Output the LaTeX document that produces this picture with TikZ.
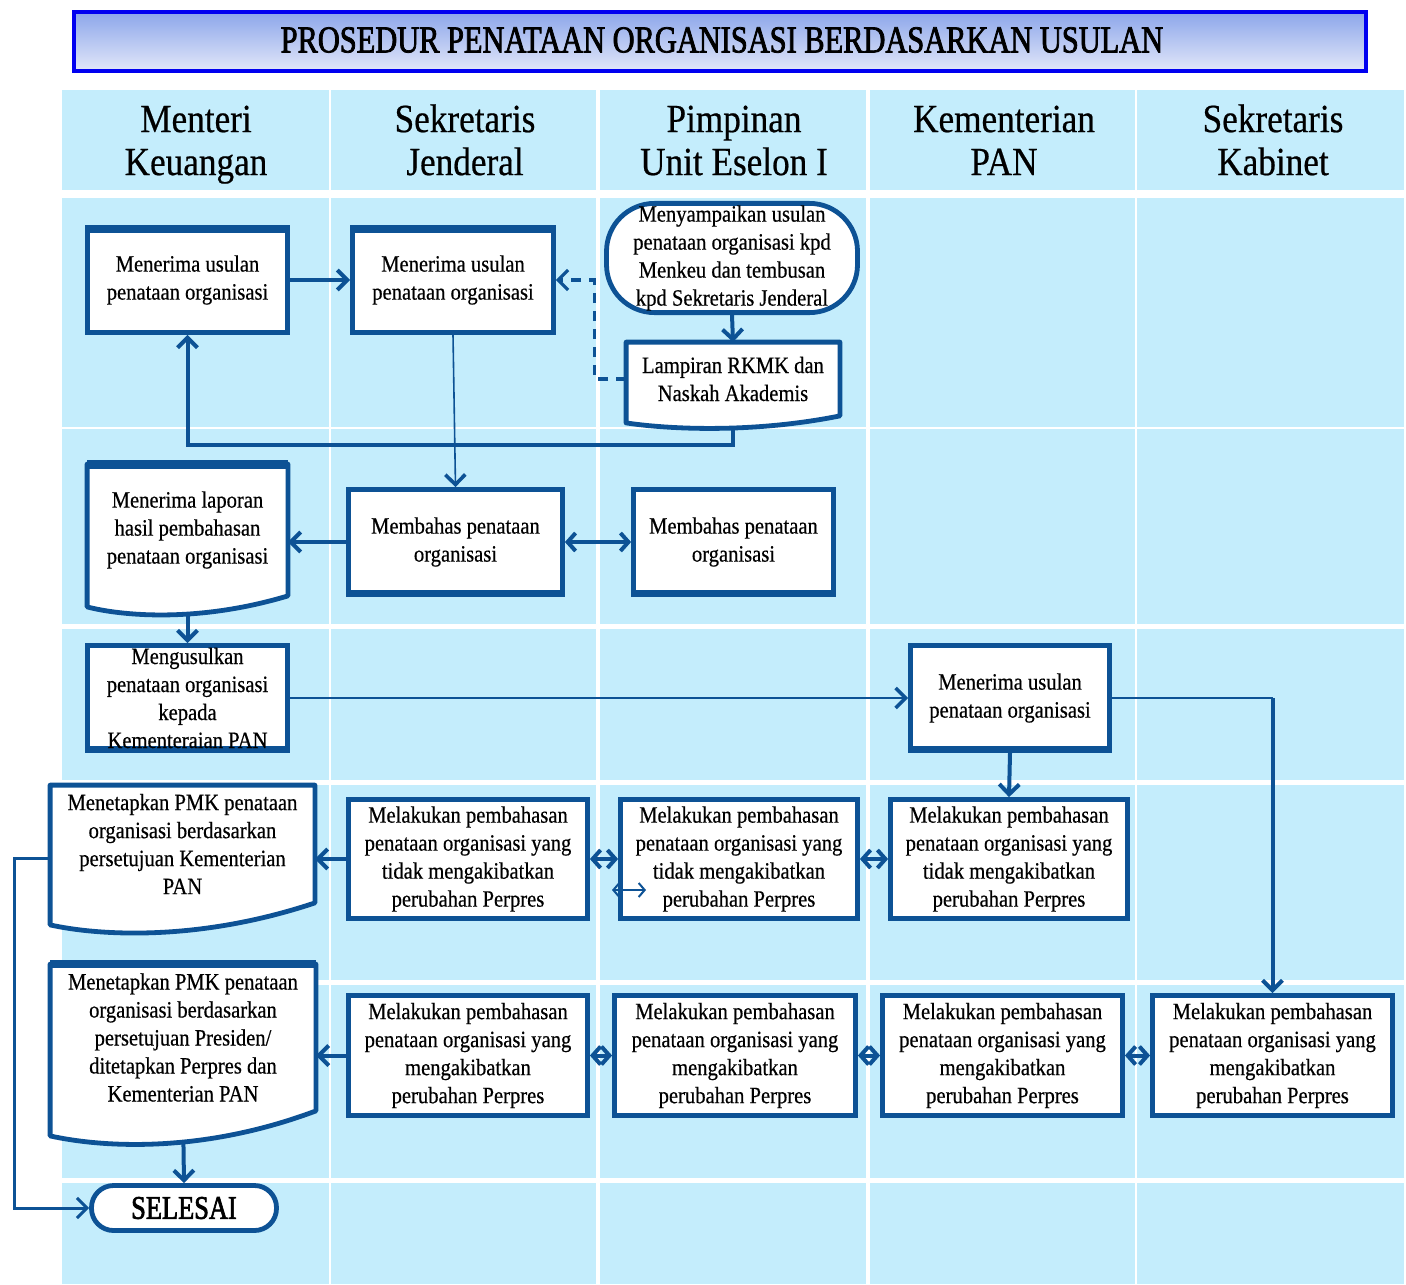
\documentclass[tikz,border=0pt]{standalone}
\usepackage{fontspec}
\setmainfont{Liberation Serif}[FakeStretch=0.88,FakeBold=0.5]
\newfontfamily\titlefont{Liberation Serif}[FakeStretch=0.8,FakeBold=2]
\usetikzlibrary{arrows.meta,calc}
\definecolor{LaneBlue}{HTML}{C4EDFC}
\definecolor{BoxBlue}{HTML}{0D5295}
\definecolor{TitleLine}{HTML}{0000F0}
\definecolor{TitleTop}{HTML}{8CA6EA}
\definecolor{TitleBot}{HTML}{E2E7F9}
\pgfdeclarelayer{lanes}
\pgfdeclarelayer{lines}
\pgfdeclarelayer{docs}
\pgfsetlayers{lanes,lines,docs,main}

\begin{document}
\begin{tikzpicture}[x=0.5pt,y=-0.5pt,
  box/.style={draw=BoxBlue,line width=2.4pt,fill=white,align=center,inner sep=1pt,font=\fontsize{11.7}{14}\selectfont},
  docbox/.style={align=center,inner sep=1pt,font=\fontsize{11.7}{14}\selectfont},
  docline/.style={draw=BoxBlue,line width=2.4pt,fill=white,line join=round},
  termbox/.style={box,rounded corners=24pt},
  lanehead/.style={align=center,font=\fontsize{20}{21.5}\selectfont},
  topbar/.style={path picture={\fill[BoxBlue] (path picture bounding box.north west) rectangle ([yshift=-2.5pt]path picture bounding box.north east);}},
  botbar/.style={path picture={\fill[BoxBlue] (path picture bounding box.south west) rectangle ([yshift=2.5pt]path picture bounding box.south east);}},
  flow/.style={BoxBlue,line width=2pt,-{Straight Barb[length=5pt,width=10pt]}},
  biflow/.style={BoxBlue,line width=2pt,{Straight Barb[length=4pt,width=9pt]}-{Straight Barb[length=4pt,width=9pt]}},
  thinline/.style={BoxBlue,line width=0.8pt},
  thinflow/.style={thinline,-{Straight Barb[length=5pt,width=10pt,line width=1.8pt]}},
  dashflow/.style={BoxBlue,line width=1.6pt,dash pattern=on 5pt off 4pt,-{Straight Barb[length=5pt,width=10pt]}}]
\useasboundingbox (0,0) rectangle (1406,1284);

% swimlanes
\begin{pgfonlayer}{lanes}
\fill[LaneBlue] (62,90) rectangle (1404,1284);
\draw[white,line width=4pt] (62,194) -- (1404,194);
\draw[white,line width=0.8pt] (62,428) -- (1404,428);
\foreach \y in {626,782,982,1180}
  \draw[white,line width=2.5pt] (62,\y) -- (1404,\y);
\foreach \x/\w in {330/0.7pt,598/2pt,868/1.6pt,1136/0.7pt}
  \draw[white,line width=\w] (\x,90) -- (\x,1284);
\end{pgfonlayer}

% title
\node[draw=TitleLine,line width=2.2pt,top color=TitleTop,bottom color=TitleBot,
  minimum width=646pt,minimum height=29.5pt,inner sep=0pt] (title) at (720,41.5) {};
\node[font=\titlefont\fontsize{19}{22}\selectfont] (titletext) at (722,40)
  {PROSEDUR PENATAAN ORGANISASI BERDASARKAN USULAN};

% lane heads
\node[lanehead] (hmenkeu) at (196,145) {Menteri\strut\\Keuangan\strut};
\node[lanehead] (hsekjen) at (465,145) {Sekretaris\strut\\Jenderal\strut};
\node[lanehead] (heselon) at (734,145) {Pimpinan\strut\\Unit Eselon I\strut};
\node[lanehead] (hpan) at (1004,145) {Kementerian\strut\\PAN\strut};
\node[lanehead] (hsetkab) at (1273,145) {Sekretaris\strut\\Kabinet\strut};

% row 1
\node[box,topbar,minimum width=100pt,minimum height=52.5pt] (a1) at (187.5,280) {Menerima usulan\\penataan organisasi};
\node[box,topbar,minimum width=100.5pt,minimum height=52.5pt] (b1) at (453,280) {Menerima usulan\\penataan organisasi};
\node[termbox,minimum width=125.5pt,minimum height=52.5pt] (c1) at (732,258) {Menyampaikan usulan\\penataan organisasi kpd\\Menkeu dan tembusan\\kpd Sekretaris Jenderal};
\node[docbox,minimum width=106.5pt,minimum height=36.5pt] (c2) at (733,379) {Lampiran RKMK dan\\Naskah Akademis};

% row 2
\node[docbox,minimum width=100pt,minimum height=65.5pt] (a2) at (187.5,530) {Menerima laporan\\hasil pembahasan\\penataan organisasi};
\node[box,botbar,minimum width=107pt,minimum height=52.5pt] (b2) at (455.5,542) {Membahas penataan\\organisasi};
\node[box,botbar,minimum width=100pt,minimum height=52.5pt] (c3) at (733.5,542) {Membahas penataan\\organisasi};

% row 3
\node[box,botbar,minimum width=100pt,minimum height=52.5pt] (a3) at (187.5,698) {Mengusulkan\\penataan organisasi\\kepada\\Kementeraian PAN};
\node[box,botbar,minimum width=99.5pt,minimum height=52.5pt] (d1) at (1010,698) {Menerima usulan\\penataan organisasi};

% row 4
\node[docbox,minimum width=132pt,minimum height=58.5pt] (a4) at (182.5,844) {Menetapkan PMK penataan\\organisasi berdasarkan\\persetujuan Kementerian\\PAN};
\node[box,minimum width=119.5pt,minimum height=59.5pt] (b4) at (468,859) {Melakukan pembahasan\\penataan organisasi yang\\tidak mengakibatkan\\perubahan Perpres};
\node[box,minimum width=118.5pt,minimum height=59.5pt] (c4) at (739,859) {Melakukan pembahasan\\penataan organisasi yang\\tidak mengakibatkan\\perubahan Perpres};
\node[box,minimum width=118.5pt,minimum height=59.5pt] (d4) at (1009,859) {Melakukan pembahasan\\penataan organisasi yang\\tidak mengakibatkan\\perubahan Perpres};

% row 5
\node[docbox,minimum width=132.5pt,minimum height=73pt] (a5) at (183,1037.5) {Menetapkan PMK penataan\\organisasi berdasarkan\\persetujuan Presiden/\\ditetapkan Perpres dan\\Kementerian PAN};
\node[box,minimum width=119.5pt,minimum height=60pt] (b5) at (468,1055.5) {Melakukan pembahasan\\penataan organisasi yang\\mengakibatkan\\perubahan Perpres};
\node[box,minimum width=120.5pt,minimum height=60pt] (c5) at (735,1055.5) {Melakukan pembahasan\\penataan organisasi yang\\mengakibatkan\\perubahan Perpres};
\node[box,minimum width=120pt,minimum height=60pt] (d5) at (1002.5,1055.5) {Melakukan pembahasan\\penataan organisasi yang\\mengakibatkan\\perubahan Perpres};
\node[box,minimum width=120pt,minimum height=60pt] (e5) at (1272.5,1055.5) {Melakukan pembahasan\\penataan organisasi yang\\mengakibatkan\\perubahan Perpres};

% end
\node[termbox,rounded corners=11pt,minimum width=92.5pt,minimum height=22.5pt,font=\titlefont\fontsize{16.5}{18}\selectfont] (selesai) at (184,1208) {SELESAI};
\coordinate (glitch) at (612,890);
\draw[BoxBlue,line width=1pt,{Straight Barb[length=3pt,width=7pt]}-{Straight Barb[length=3pt,width=7pt]}] (glitch) -- ++(34,0);

% document outlines
\begin{pgfonlayer}{docs}
\draw[docline] (c2.south west) -- (c2.north west) -- (c2.north east) -- (c2.south east)
  .. controls +(-90,18) and +(40,6) .. ($(c2.south west)+(0,7)$) -- cycle;
\draw[docline] (a2.south west) -- (a2.north west) -- (a2.north east) -- (a2.south east)
  .. controls +(-90,27) and +(35,9) .. ($(a2.south west)+(0,11)$) -- cycle;
\draw[docline] (a4.south west) -- (a4.north west) -- (a4.north east) -- (a4.south east)
  .. controls +(-120,40) and +(45,10) .. ($(a4.south west)+(0,22)$) -- cycle;
\draw[docline] (a5.south west) -- (a5.north west) -- (a5.north east) -- (a5.south east)
  .. controls +(-120,45) and +(45,10) .. ($(a5.south west)+(0,25)$) -- cycle;
\draw[BoxBlue,line width=4.5pt] (a2.north west) -- (a2.north east);
\draw[BoxBlue,line width=4pt] (a5.north west) -- (a5.north east);
\end{pgfonlayer}

% connectors
\begin{pgfonlayer}{lines}
\draw[flow] (a1) -- (b1);
\draw[flow] (c1.south) -- (c2.north);
\draw[flow] (c2.south) -- ++(0,29) -| (a1.south);
\draw[dashflow] (c2.west) -- ++(-32,0) |- (b1.east);
\draw[thinflow] (b1.south) -- (b2.north);
\draw[flow] (b2.west) -- (b2.west -| a2.east);
\draw[biflow] (b2) -- (c3);
\draw[flow] (a2.south) -- (a3.north);
\draw[thinflow] (a3) -- (d1);
\draw[thinline] (d1.east) -- (d1.east -| e5.north);
\draw[flow] (d1.east -| e5.north) -- (e5.north);
\draw[flow] (d1.south) -- (d4.north);
\draw[flow] (b4.west) -- (b4.west -| a4.east);
\draw[biflow] (b4) -- (c4);
\draw[biflow] (c4) -- (d4);
\draw[flow] (b5.west) -- (b5.west -| a5.east);
\draw[biflow] (b5) -- (c5);
\draw[biflow] (c5) -- (d5);
\draw[biflow] (d5) -- (e5);
\draw[flow] (a5.south) -- (selesai.north);
\draw[flow,line width=1.5pt] ([yshift=-7pt]a4.west) -- ++(-36,0) |- (selesai.west);
\end{pgfonlayer}
\end{tikzpicture}
\end{document}
